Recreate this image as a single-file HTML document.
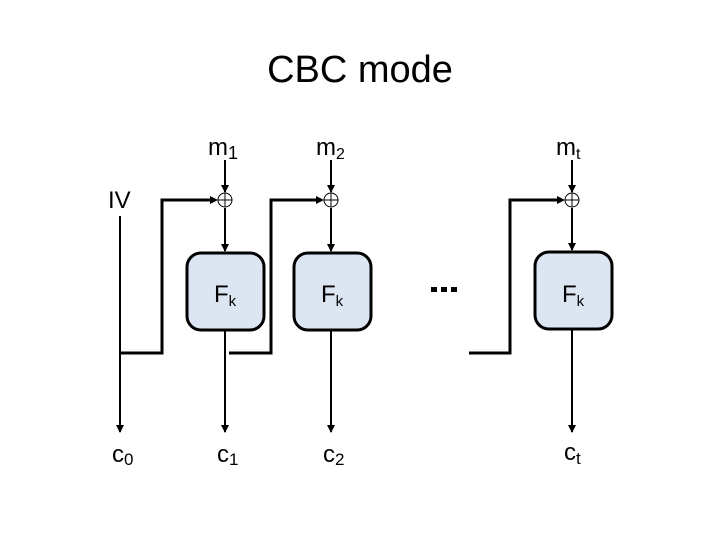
<!DOCTYPE html>
<html><head><meta charset="utf-8"><style>
html,body{margin:0;padding:0;background:#fff;}
svg{display:block;font-family:"Liberation Sans","DejaVu Sans",sans-serif;}
</style></head><body>
<svg width="720" height="540" viewBox="0 0 720 540" xmlns="http://www.w3.org/2000/svg">
<defs>
<marker id="a" markerWidth="8" markerHeight="8" refX="7" refY="4" orient="auto" markerUnits="userSpaceOnUse">
<path d="M0,0 L8,4 L0,8 Z" fill="#000"/></marker>
</defs>
<text x="360" y="82" font-size="38" text-anchor="middle">CBC mode</text>
<text x="108" y="208" font-size="24">IV</text>
<!-- m labels -->
<text x="208" y="155" font-size="24">m<tspan font-size="18" dy="4">1</tspan></text>
<text x="316" y="155" font-size="24">m<tspan font-size="16" dy="4">2</tspan></text>
<text x="556" y="155" font-size="24">m<tspan font-size="16" dy="4">t</tspan></text>
<!-- top arrows to xor -->
<g stroke="#000" stroke-width="2" fill="none">
<line x1="225" y1="160" x2="225" y2="192" marker-end="url(#a)"/>
<line x1="331" y1="160" x2="331" y2="192" marker-end="url(#a)"/>
<line x1="572" y1="160" x2="572" y2="192" marker-end="url(#a)"/>
<line x1="225" y1="208" x2="225" y2="251" marker-end="url(#a)"/>
<line x1="331" y1="208" x2="331" y2="251" marker-end="url(#a)"/>
<line x1="572" y1="208" x2="572" y2="250" marker-end="url(#a)"/>
<line x1="120" y1="216" x2="120" y2="432" marker-end="url(#a)"/>
<line x1="225" y1="330" x2="225" y2="432" marker-end="url(#a)"/>
<line x1="331" y1="330" x2="331" y2="432" marker-end="url(#a)"/>
<line x1="572" y1="330" x2="572" y2="432" marker-end="url(#a)"/>
</g>
<!-- feedback lines -->
<g stroke="#000" stroke-width="3" fill="none">
<polyline points="120,353 162,353 162,200 212,200"/>
<polyline points="229,353 271,353 271,200 318,200"/>
<polyline points="469,353 510,353 510,200 559,200"/>
</g>
<g fill="#000">
<path d="M218,200 l-8,-4 v8z"/><path d="M324,200 l-8,-4 v8z"/><path d="M565,200 l-8,-4 v8z"/>
</g>
<!-- xors -->
<g stroke="#000" stroke-width="1" fill="#fff">
<circle cx="225" cy="200" r="7"/><circle cx="331" cy="200" r="7"/><circle cx="572" cy="200" r="7"/>
</g>
<g stroke="#000" stroke-width="1">
<line x1="218" y1="200" x2="232" y2="200"/><line x1="225" y1="193" x2="225" y2="207"/>
<line x1="324" y1="200" x2="338" y2="200"/><line x1="331" y1="193" x2="331" y2="207"/>
<line x1="565" y1="200" x2="579" y2="200"/><line x1="572" y1="193" x2="572" y2="207"/>
</g>
<!-- boxes -->
<g fill="#dce6f2" stroke="#000" stroke-width="3">
<rect x="187" y="253" width="77" height="77" rx="14"/>
<rect x="294" y="253" width="77" height="77" rx="14"/>
<rect x="535" y="252" width="77" height="77" rx="14"/>
</g>
<g font-size="24">
<text x="214" y="302">F<tspan font-size="15" dy="4">k</tspan></text>
<text x="321" y="302">F<tspan font-size="15" dy="4">k</tspan></text>
<text x="562" y="302">F<tspan font-size="15" dy="4">k</tspan></text>
</g>
<g fill="#000">
<rect x="431" y="287" width="6" height="5"/><rect x="441" y="287" width="6" height="5"/><rect x="451" y="287" width="6" height="5"/>
</g>
<g font-size="24">
<text x="112" y="462">c<tspan font-size="17" dy="3">0</tspan></text>
<text x="217" y="462">c<tspan font-size="17" dy="3">1</tspan></text>
<text x="323" y="462">c<tspan font-size="17" dy="3">2</tspan></text>
<text x="564" y="460">c<tspan font-size="17" dy="4">t</tspan></text>
</g>
</svg>
</body></html>
